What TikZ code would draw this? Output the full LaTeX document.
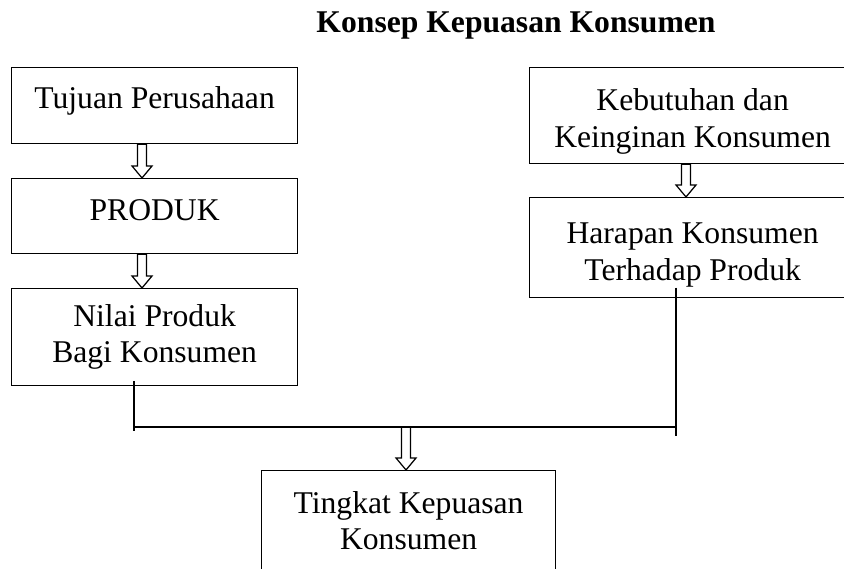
\documentclass[tikz,border=0pt]{standalone}
\usepackage{fontspec}
\setmainfont{Liberation Serif}
\usetikzlibrary{calc}

\tikzset{
	kotak/.style={draw, line width=0.7pt, rectangle, anchor=north west, align=center, inner sep=0pt},
	garis/.style={line width=0.7pt},
}
\newcommand{\hollowarrow}[2]{%
	\draw [garis] ($(#1)+(-0.09,0)$) -- ($(#2)+(-0.09,0.24)$) -- ($(#2)+(-0.2,0.24)$) -- (#2)
		-- ($(#2)+(0.2,0.24)$) -- ($(#2)+(0.09,0.24)$) -- ($(#1)+(0.09,0)$) -- cycle;}

\begin{document}
\begin{tikzpicture}[font=\fontsize{18}{20.7}\selectfont]
	\useasboundingbox (0,0) rectangle (16.88,11.38);
	\clip (0,0) rectangle (16.88,11.38);

	\node [anchor=base, font=\fontsize{18}{20.7}\selectfont\bfseries] (judul) at (10.32, 10.72) {Konsep Kepuasan Konsumen};

	\node [kotak, minimum width=5.72cm, minimum height=1.52cm] (tujuan) at (0.22, 10.04) {Tujuan Perusahaan\rule[-9.6pt]{0pt}{1pt}};
	\node [kotak, minimum width=5.72cm, minimum height=1.50cm] (produk) at (0.22, 7.82) {PRODUK\rule[-6.8pt]{0pt}{1pt}};
	\node [kotak, minimum width=5.72cm, minimum height=1.94cm] (nilai) at (0.22, 5.62) {Nilai Produk\\Bagi Konsumen};

	\node [kotak, minimum width=6.52cm, minimum height=1.92cm] (kebutuhan) at (10.58, 10.04) {\rule{0pt}{19pt}Kebutuhan dan\\Keinginan Konsumen};
	\node [kotak, minimum width=6.52cm, minimum height=2.00cm] (harapan) at (10.58, 7.44) {\rule{0pt}{20.3pt}Harapan Konsumen\\Terhadap Produk};

	\node [kotak, minimum width=5.88cm, minimum height=2.00cm] (tingkat) at (5.22, 1.98) {Tingkat Kepuasan\\Konsumen};

	\coordinate (xa) at (2.84, 0);
	\coordinate (xr) at (13.72, 0);
	\coordinate (L) at (2.68, 2.84);
	\coordinate (R) at (13.52, 2.84);
	\coordinate (xb) at (8.12, 2.84);

	\hollowarrow{tujuan.south -| xa}{produk.north -| xa}
	\hollowarrow{produk.south -| xa}{nilai.north -| xa}
	\hollowarrow{kebutuhan.south -| xr}{harapan.north -| xr}

	\draw [garis] ([yshift=3pt]nilai.south -| L) -- ([yshift=-2.5pt]L);
	\draw [garis] ([yshift=6pt]harapan.south -| R) -- ([yshift=-5pt]R);
	\draw [garis] (L) -- (R);
%	\draw [garis] (L) -- (xb) -- (R);
	\hollowarrow{xb}{tingkat.north -| xb}
\end{tikzpicture}
\end{document}
